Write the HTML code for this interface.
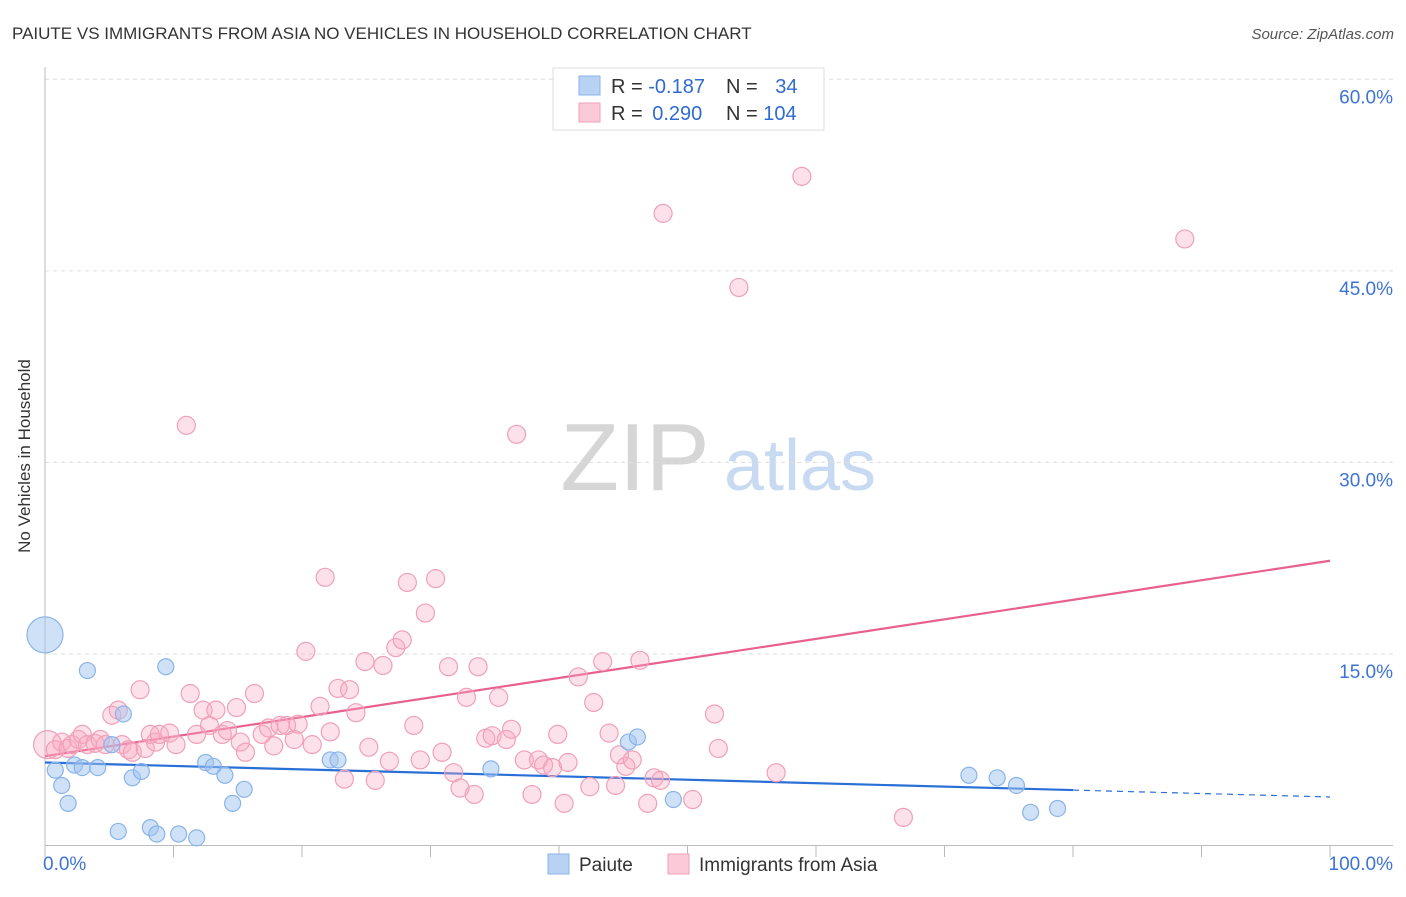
<!DOCTYPE html>
<html><head><meta charset="utf-8"><style>
body{margin:0;background:#fff;font-family:"Liberation Sans",sans-serif;}
svg text{font-family:"Liberation Sans",sans-serif;}
</style></head><body>
<svg id="chart" width="1406" height="892" xmlns="http://www.w3.org/2000/svg">
<text x="12" y="39" font-size="17" fill="#333">PAIUTE VS IMMIGRANTS FROM ASIA NO VEHICLES IN HOUSEHOLD CORRELATION CHART</text>
<text x="1394" y="39" font-size="15" fill="#555" text-anchor="end" font-style="italic">Source: ZipAtlas.com</text>
<text x="30" y="456" font-size="17" fill="#333" text-anchor="middle" transform="rotate(-90 30 456)">No Vehicles in Household</text>
<g><text x="635" y="490" font-size="96" fill="#d6d6d6" text-anchor="middle" font-family="Liberation Serif,serif">ZIP</text><text x="800" y="490" font-size="72" fill="#c8daf2" text-anchor="middle">atlas</text></g>
<g id="grid"></g><g id="axes"></g><g id="trend"></g><g id="pts"></g>
<g>
<rect x="553" y="68" width="271" height="62" fill="#fff" stroke="#ddd"/>
<rect x="579" y="76" width="21" height="19" fill="#b8d2f4" stroke="#8ab4e8"/>
<rect x="579" y="103" width="21" height="19" fill="#fbcad8" stroke="#f0a0b8"/>
<text x="611" y="93" font-size="20" fill="#333">R = <tspan fill="#2f6bd0">-0.187</tspan></text>
<text x="726" y="93" font-size="20" fill="#333">N = <tspan fill="#2f6bd0" dx="12">34</tspan></text>
<text x="611" y="120" font-size="20" fill="#333">R = <tspan fill="#2f6bd0" dx="4">0.290</tspan></text>
<text x="726" y="120" font-size="20" fill="#333">N = <tspan fill="#2f6bd0">104</tspan></text>
</g>
<g>
<rect x="548" y="854" width="21" height="20" fill="#b8d2f4" stroke="#8ab4e8"/>
<text x="579" y="871" font-size="19" fill="#333">Paiute</text>
<rect x="668" y="854" width="21" height="20" fill="#fbcad8" stroke="#f0a0b8"/>
<text x="699" y="871" font-size="19" fill="#333">Immigrants from Asia</text>
</g>
</svg>
<script>
const yTicks=[15,30,45,60];
const yTickLabels=["15.0%","30.0%","45.0%","60.0%"];
const xLabels=["0.0%","100.0%"];
const blueX=[0,0.8,1.3,1.8,2.3,2.9,3.3,4.1,5.2,5.7,6.1,6.8,7.5,8.2,8.7,9.4,10.4,11.8,12.5,13.1,14.0,14.6,15.5,22.2,22.8,34.7,45.4,46.1,48.9,71.9,74.1,75.6,76.7,78.8];
const blueY=[16.5,5.9,4.7,3.3,6.3,6.1,13.7,6.1,7.9,1.1,10.3,5.3,5.8,1.4,0.9,14.0,0.9,0.6,6.5,6.2,5.5,3.3,4.4,6.7,6.7,6.0,8.1,8.5,3.6,5.5,5.3,4.7,2.6,2.9];
const pinkX=[0.2,0.8,1.3,1.8,2.1,2.6,2.9,3.3,3.9,4.3,4.7,5.2,5.7,6.0,6.5,6.8,7.4,7.8,8.2,8.6,8.9,9.7,10.2,11.0,11.3,11.8,12.3,12.8,13.3,13.8,14.2,14.9,15.2,15.6,16.3,16.9,17.4,17.8,18.3,18.8,19.4,19.7,20.3,20.8,21.4,21.8,22.2,22.8,23.3,23.7,24.2,24.9,25.2,25.7,26.3,26.8,27.3,27.8,28.2,28.7,29.2,29.6,30.4,30.9,31.4,31.8,32.3,32.8,33.4,33.7,34.3,34.8,35.3,35.9,36.3,36.7,37.3,37.9,38.4,38.8,39.5,39.9,40.4,40.7,41.5,42.4,42.7,43.4,43.9,44.4,44.7,45.2,45.7,46.3,46.9,47.4,47.9,48.1,50.4,52.1,52.4,54.0,56.9,58.9,66.8,88.7];
const pinkY=[7.9,7.5,8.1,7.6,7.9,8.3,8.7,7.9,8.0,8.3,7.9,10.2,10.6,7.9,7.5,7.3,12.2,7.6,8.7,8.1,8.7,8.8,7.9,32.9,11.9,8.7,10.6,9.4,10.6,8.7,9.0,10.8,8.1,7.3,11.9,8.7,9.2,7.8,9.4,9.4,8.3,9.5,15.2,7.9,10.9,21.0,8.9,12.3,5.2,12.2,10.4,14.4,7.7,5.1,14.1,6.6,15.5,16.1,20.6,9.4,6.7,18.2,20.9,7.3,14.0,5.7,4.5,11.6,4.0,14.0,8.4,8.6,11.6,8.3,9.1,32.2,6.7,4.0,6.7,6.3,6.1,8.7,3.3,6.5,13.2,4.6,11.2,14.4,8.8,4.7,7.1,6.2,6.7,14.5,3.3,5.3,5.1,49.5,3.6,10.3,7.6,43.7,5.7,52.4,2.2,47.5];
const blueTrend=[6.5,3.8];
const pinkTrend=[7.0,22.3];
const NS="http://www.w3.org/2000/svg";
const sx=v=>45+v*12.85;
const sy=v=>845.5-v*12.77;
function mk(tag,attrs,parent){const e=document.createElementNS(NS,tag);for(const k in attrs)e.setAttribute(k,attrs[k]);document.getElementById(parent).appendChild(e);return e;}
yTicks.forEach((t,i)=>{
 const l=mk('line',{x1:45,x2:1393,y1:sy(t),y2:sy(t),stroke:'#ddd','stroke-dasharray':'4,4'},'grid');
 
 
 const tx=mk('text',{x:1393,y:sy(t)+24,'font-size':19,fill:'#3d73d6','text-anchor':'end'},'grid');
 tx.textContent=yTickLabels[i];
 
 
});
const ax=mk('line',{x1:45,x2:45,y1:67,y2:846,stroke:'#bbb'},'axes');


const bx=mk('line',{x1:45,x2:1393,y1:845.5,y2:845.5,stroke:'#bbb'},'axes');


for(let i=0;i<=10;i++){const t=mk('line',{x1:sx(i*10),x2:sx(i*10),y1:845,y2:857,stroke:'#bbb'},'axes');
 
 }
[[43,'start'],[1393,'end']].forEach((p,i)=>{const t=mk('text',{x:p[0],y:870,'font-size':19,fill:'#3d73d6','text-anchor':p[1]},'axes');t.textContent=xLabels[i];
 
 });
const pl=mk('line',{x1:sx(0),y1:sy(pinkTrend[0]),x2:sx(100),y2:sy(pinkTrend[1]),stroke:'#e8608e','stroke-width':2.2},'trend');


const bAt=x=>blueTrend[0]+(blueTrend[1]-blueTrend[0])*x/100;
const bl=mk('line',{x1:sx(0),y1:sy(bAt(0)),x2:sx(80),y2:sy(bAt(80)),stroke:'#2a6fd6','stroke-width':2.2},'trend');


const bd=mk('line',{x1:sx(80),y1:sy(bAt(80)),x2:sx(100),y2:sy(bAt(100)),stroke:'#2a6fd6','stroke-width':1.2,'stroke-dasharray':'6,5'},'trend');


pinkX.forEach((x,i)=>{const c=mk('circle',{cx:sx(x),cy:sy(pinkY[i]),r:i===0?14:9,fill:'rgba(248,170,195,0.35)',stroke:'#f0a0b8','stroke-width':1.2},'pts');
 
 });
blueX.forEach((x,i)=>{const c=mk('circle',{cx:sx(x),cy:sy(blueY[i]),r:i===0?18:8,fill:'rgba(160,196,240,0.5)',stroke:'#8ab4e8','stroke-width':1.2},'pts');
 
 });
</script>
</body></html>
